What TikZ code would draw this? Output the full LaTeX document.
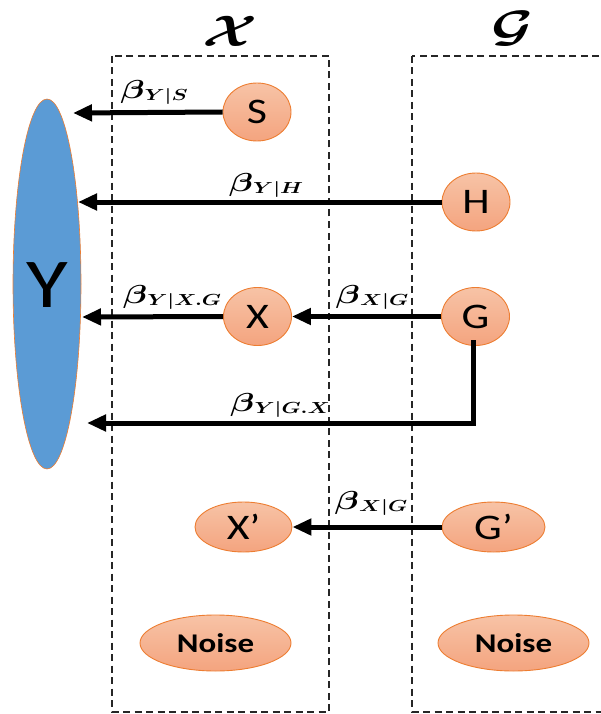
\documentclass[tikz,border=0pt]{standalone}
\usepackage{fix-cm}
\usepackage{amsmath}
\usepackage{bm}
\usepackage{graphicx}
\usepackage{fontspec}
\setmainfont{Carlito}[FakeStretch=1.22]
\usetikzlibrary{arrows.meta,shapes.geometric}

\definecolor{yblue}{HTML}{5B9BD5}
\definecolor{accent}{HTML}{ED7D31}
\definecolor{peachtop}{HTML}{F7C3A6}
\definecolor{peachbot}{HTML}{F4A47F}

% path coefficient label: bold beta with a small bold subscript
\newcommand{\coef}[1]{\scalebox{1.35}[1]{\fontsize{26}{28}\selectfont$\bm{\beta}$\raisebox{-2pt}{\fontsize{16}{18}\selectfont$\bm{#1}$}}}
\newcommand{\groupname}[1]{\scalebox{1.3}[1]{\fontsize{44}{48}\selectfont$\bm{\mathcal{#1}}$}}

\tikzset{
  var/.style={ellipse, inner sep=0pt, draw=accent, line width=0.9pt,
    top color=peachtop, bottom color=peachbot,
    font=\fontsize{36}{40}\selectfont},
  small/.style={var, minimum width=68pt, minimum height=58pt},
  wide/.style={var, minimum width=97pt, minimum height=50pt},
  noise/.style={var, minimum width=151pt, minimum height=56pt,
    font=\fontsize{27}{30}\selectfont\bfseries},
  group/.style={draw=black!85, line width=1.4pt, dash pattern=on 7pt off 4.5pt},
  path/.style={line width=5pt, -{Triangle[length=19pt,width=16pt]}},
  lbl/.style={inner sep=0pt}
}

\begin{document}
\begin{tikzpicture}[x=1pt,y=-1pt]
\useasboundingbox (0,0) rectangle (601,714);
\clip (0,0) rectangle (601,714);

% the two variable groups
\draw[group] (112,56) rectangle (329,712);
\draw[group] (412,56) rectangle (620,712);
\node[lbl] (hx) at (230,31) {\groupname{X}};
\node[lbl] (hg) at (513,29) {\groupname{G}};

% outcome
\node[ellipse, inner sep=0pt, minimum width=68pt, minimum height=370pt,
      fill=yblue, draw=accent, line width=0.6pt] (Y) at (47,284) {};
\node[lbl, font=\fontsize{70}{74}\selectfont] (yl) at (47,285) {Y};

% variables
\node[small] (S) at (257,112) {S};
\node[small] (H) at (476,202) {H};
\node[small] (X) at (257.5,316.5) {X};
\node[small] (G) at (475.5,316.5) {G};
\node[wide] (Xp) at (243.5,527) {X’};
\node[wide, minimum width=103pt] (Gp) at (493.5,527) {G’};
\node[noise] (N1) at (215.5,643) {Noise};
\node[noise] (N2) at (513.5,643) {Noise};

% arrow tips next to Y
\coordinate (tS) at (73,113);
\coordinate (tH) at (78,200);
\coordinate (tX) at (82,317);
\coordinate (tGX) at (87,423);
\coordinate (bend) at (473,423);
\coordinate (gdrop) at (473,340);

% effects
\draw[path] (S.west) -- (tS);
\draw[path] (H.west) -- (H.west -| tH);
\draw[path] (X.west) -- (tX);
\draw[path] (G.west) -- (X.east);
\draw[path] (gdrop) -- (bend) -- (tGX);
\draw[path] (Gp.west) -- (Xp.east);

% coefficient labels
\node[lbl] (lS) at (154,92) {\coef{Y|S}};
\node[lbl] (lH) at (266,185) {\coef{Y|H}};
\node[lbl] (lXG) at (172,297) {\coef{Y|X.G}};
\node[lbl] (lGX) at (372,297) {\coef{X|G}};
\node[lbl] (lYGX) at (280,405) {\coef{Y|G.X}};
\node[lbl] (lGpX) at (371,503) {\coef{X|G}};
\end{tikzpicture}
\end{document}
